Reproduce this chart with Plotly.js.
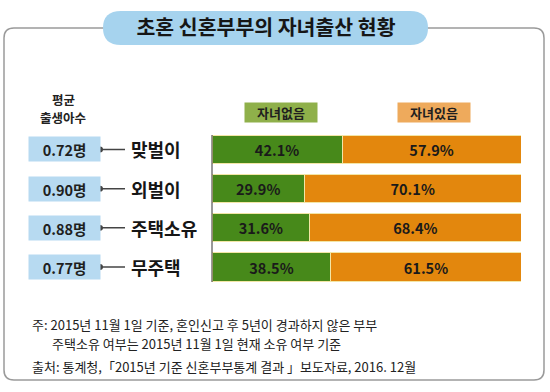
<!DOCTYPE html>
<html><head><meta charset="utf-8">
<script src="https://cdn.plot.ly/plotly-3.0.1.min.js"></script>
<style>html,body{margin:0;padding:0;background:#fff}#chart{width:550px;height:392px}</style>
</head><body><div id="chart"></div>
<script>
const categories = ['맞벌이', '외벌이', '주택소유', '무주택'];
const noChild = [42.1, 29.9, 31.6, 38.5];
const withChild = [57.9, 70.1, 68.4, 61.5];
const avgBirths = ['0.72명', '0.90명', '0.88명', '0.77명'];
const seriesNames = ['자녀없음', '자녀있음'];
const title = '초혼 신혼부부의 자녀출산 현황';
const leftHeader = ['평균', '출생아수'];
const notes = ['주: 2015년 11월 1일 기준, 혼인신고 후 5년이 경과하지 않은 부부',
               '주택소유 여부는 2015년 11월 1일 현재 소유 여부 기준',
               '출처: 통계청,「2015년 기준 신혼부부통계 결과 」보도자료, 2016. 12월'];

const W = 550, H = 392;
const px = x => x / W;
const py = y => 1 - y / H;
const FONT = '"Noto Sans CJK KR", "Noto Sans", sans-serif';
const GREEN = '#47891a', ORANGE = '#e3870d';

const traces = [
  {type:'bar', orientation:'h', y:categories, x:noChild, name:seriesNames[0],
   marker:{color:GREEN, line:{color:'#f3e6a6', width:1}},
   text:noChild.map(v=>v.toFixed(1)+'%'), textposition:'inside', insidetextanchor:'middle',
   textfont:{family:FONT, size:14.5, color:'#1a1a1a', weight:'bold'}, hoverinfo:'none', width:0.72},
  {type:'bar', orientation:'h', y:categories, x:withChild, name:seriesNames[1],
   marker:{color:ORANGE, line:{color:'#f3e6a6', width:1}},
   text:withChild.map(v=>v.toFixed(1)+'%'), textposition:'inside', insidetextanchor:'middle',
   textfont:{family:FONT, size:14.5, color:'#1a1a1a', weight:'bold'}, hoverinfo:'none', width:0.72}
];

const shapes = [];
const annotations = [];

// frame
shapes.push({type:'path', xref:'paper', yref:'paper', layer:'below',
  path:`M ${px(14)} ${py(28)} L ${px(534)} ${py(28)} Q ${px(544)} ${py(28)} ${px(544)} ${py(38)} L ${px(544)} ${py(370)} Q ${px(544)} ${py(380)} ${px(534)} ${py(380)} L ${px(14)} ${py(380)} Q ${px(4)} ${py(380)} ${px(4)} ${py(370)} L ${px(4)} ${py(38)} Q ${px(4)} ${py(28)} ${px(14)} ${py(28)} Z`,
  line:{color:'#9a9a9a', width:1.5}, fillcolor:'rgba(0,0,0,0)'});
// title pill
shapes.push({type:'path', xref:'paper', yref:'paper',
  path:`M ${px(121)} ${py(11)} L ${px(410)} ${py(11)} Q ${px(428)} ${py(11)} ${px(428)} ${py(28)} Q ${px(428)} ${py(45)} ${px(410)} ${py(45)} L ${px(121)} ${py(45)} Q ${px(103)} ${py(45)} ${px(103)} ${py(28)} Q ${px(103)} ${py(11)} ${px(121)} ${py(11)} Z`,
  line:{width:0}, fillcolor:'#a6d3ee'});

// left header
const hdrY = [100, 118];
leftHeader.forEach((t,i)=>{
  annotations.push({xref:'paper', yref:'paper', x:px(63), y:py(hdrY[i]), text:'<b>'+t+'</b>',
    showarrow:false, font:{family:FONT, size:12.5, color:'#222'}, xanchor:'center', yanchor:'middle', borderpad:0});
});

// legend boxes
const legendX = [281, 434];
const legendFill = ['#8fb04a', '#eeaa5c'];
seriesNames.forEach((n,i)=>{
  annotations.push({xref:'paper', yref:'paper', x:px(legendX[i]), y:py(112.5), text:'<b>'+n+'</b>',
    showarrow:false, bgcolor:legendFill[i], width:72, height:19, borderpad:0,
    font:{family:FONT, size:13, color:'#1f1f1f'}, xanchor:'center', yanchor:'middle'});
});

categories.forEach((c,i)=>{
  annotations.push({xref:'paper', yref:'y', x:px(64), y:c, text:'<b>'+avgBirths[i]+'</b>',
    showarrow:false, bgcolor:'#b7daf1', width:71, height:24, borderpad:0,
    font:{family:FONT, size:14.5, color:'#1f1f1f'}, xanchor:'center', yanchor:'middle'});
  annotations.push({xref:'paper', yref:'y', x:px(129), y:c, text:'<b>'+c+'</b>',
    showarrow:false, font:{family:FONT, size:18, color:'#161616'}, xanchor:'left', yanchor:'middle'});
  shapes.push({type:'line', xref:'paper', yref:'y', x0:px(100), x1:px(125), y0:c, y1:c,
    line:{color:'#444', width:1.5}});
  shapes.push({type:'circle', xref:'paper', yref:'y', x0:px(97), x1:px(103), y0:i-0.075, y1:i+0.075,
    line:{width:0}, fillcolor:'#444'});
});

// notes
const noteX = [30, 50, 30], noteY = [324, 343, 366];
notes.forEach((t,i)=>{
  annotations.push({xref:'paper', yref:'paper', x:px(noteX[i]), y:py(noteY[i]), text:t,
    showarrow:false, font:{family:FONT, size:13, color:'#222'}, xanchor:'left', yanchor:'middle'});
});

shapes.push({type:'line', xref:'paper', yref:'paper', x0:px(212), x1:px(212), y0:py(135), y1:py(282),
  line:{color:'#333', width:1}});

const layout = {
  width:W, height:H, margin:{l:0,r:0,t:0,b:0}, paper_bgcolor:'#fff', plot_bgcolor:'rgba(0,0,0,0)',
  barmode:'stack', showlegend:false, bargap:0,
  title:{text:'<b>'+title+'</b>', x:px(266), xanchor:'center', y:py(28), yanchor:'middle',
    font:{family:FONT, size:20.5, color:'#161616'}},
  xaxis:{domain:[px(212), px(521)], range:[0,100], showgrid:false, zeroline:false, showticklabels:false, showline:false, fixedrange:true},
  yaxis:{domain:[py(286.6), py(129.9)], range:[3.5,-0.5], showgrid:false, zeroline:false, showticklabels:false,
    showline:false, fixedrange:true, type:'category'},
  shapes:shapes, annotations:annotations
};

Plotly.newPlot('chart', traces, layout, {displayModeBar:false, staticPlot:true});
</script></body></html>
